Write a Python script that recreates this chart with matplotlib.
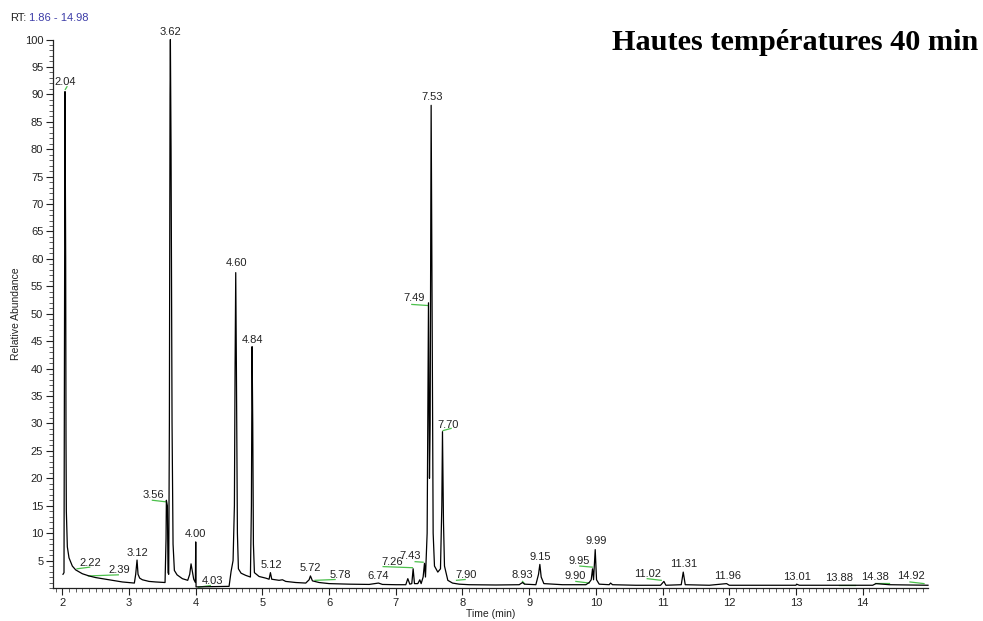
import numpy as np
import matplotlib
matplotlib.use("Agg")
import matplotlib.pyplot as plt
from matplotlib.ticker import MultipleLocator

# chromatogram trace: retention time (min), relative abundance (%)
rt = [2.010, 2.025, 2.040, 2.050, 2.055, 2.060, 2.075, 2.10, 2.15, 2.20, 2.30, 2.40,
      2.50, 2.60, 2.70, 2.80, 2.90, 3.00, 3.08, 3.10, 3.12, 3.135, 3.16, 3.20, 3.30,
      3.40, 3.54, 3.555, 3.56, 3.575, 3.585, 3.595, 3.605, 3.615, 3.62, 3.63, 3.645,
      3.66, 3.68, 3.72, 3.80, 3.88, 3.91, 3.93, 3.95, 3.97, 3.995, 4.00, 4.005, 4.50,
      4.53, 4.56, 4.58, 4.59, 4.60, 4.61, 4.625, 4.64, 4.68, 4.75, 4.82, 4.835, 4.845,
      4.855, 4.865, 4.88, 4.95, 5.05, 5.10, 5.12, 5.14, 5.25, 5.30, 5.35, 5.50, 5.65,
      5.70, 5.72, 5.75, 5.85, 6.00, 6.30, 6.60, 6.74, 6.80, 7.00, 7.15, 7.18, 7.21,
      7.24, 7.26, 7.28, 7.33, 7.36, 7.38, 7.41, 7.43, 7.445, 7.47, 7.49, 7.505, 7.515,
      7.53, 7.545, 7.56, 7.58, 7.63, 7.67, 7.69, 7.70, 7.715, 7.73, 7.78, 7.85, 7.95,
      8.10, 8.50, 8.85, 8.90, 8.93, 9.10, 9.14, 9.16, 9.18, 9.22, 9.50, 9.85, 9.90,
      9.93, 9.95, 9.965, 9.99, 10.01, 10.05, 10.20, 10.22, 10.25, 10.60, 10.97, 11.02,
      11.05, 11.28, 11.31, 11.34, 11.70, 11.96, 12.00, 13.00, 13.01, 13.05, 14.15,
      14.20, 14.40, 14.98]
abundance = [2.5, 2.8, 90.5, 60, 27, 14, 7.5, 5.5, 4.0, 3.3, 2.6, 2.2,
             1.9, 1.7, 1.5, 1.3, 1.1, 1.0, 0.9, 2.5, 5.1, 2.5, 1.8, 1.5, 1.2,
             1.1, 1.0, 9, 16.0, 15, 2.8, 2.5, 30, 90, 100, 80, 30,
             8, 3.2, 2.4, 1.7, 1.4, 2.5, 4.4, 3.0, 1.6, 1.0, 8.4, 0.2, 0.3,
             3.0, 5.0, 15, 40, 57.5, 40, 10, 3.5, 2.7, 2.3, 2.0, 15, 44,
             30, 8, 2.8, 2.1, 1.8, 1.6, 2.8, 1.6, 1.4, 1.5, 1.2, 1.0, 0.9,
             1.5, 2.2, 1.3, 1.0, 0.8, 0.7, 0.65, 0.9, 0.65, 0.6, 0.6, 1.7, 0.7,
             0.8, 3.5, 0.8, 0.8, 1.5, 0.8, 2.0, 4.5, 2.0, 10, 52, 20, 30,
             88, 50, 10, 4, 2.9, 3.5, 15, 28.5, 12, 4, 1.4, 0.9, 0.7,
             0.6, 0.55, 0.6, 1.0, 0.7, 0.6, 2.5, 4.3, 2.0, 0.8, 0.6, 0.6, 1.0,
             1.5, 3.5, 1.5, 7.0, 1.5, 0.7, 0.6, 0.9, 0.6, 0.5, 0.5, 1.2,
             0.5, 0.6, 2.9, 0.6, 0.5, 0.8, 0.5, 0.5, 0.7, 0.5, 0.5,
             0.8, 0.6, 0.5]

# peak annotations: text, position (time, abundance)
peak_labels = ["2.04", "2.22", "2.39", "3.12", "3.56", "3.62", "4.00", "4.03", "4.60",
               "4.84", "5.12", "5.72", "5.78", "6.74", "7.26", "7.43", "7.49", "7.53",
               "7.70", "7.90", "8.93", "9.15", "9.90", "9.95", "9.99", "11.02", "11.31",
               "11.96", "13.01", "13.88", "14.38", "14.92"]
label_t = [2.05, 2.42, 2.86, 3.12, 3.37, 3.62, 4.00, 4.25, 4.61,
           4.85, 5.13, 5.72, 6.17, 6.74, 6.94, 7.22, 7.27, 7.54,
           7.78, 8.06, 8.89, 9.16, 9.69, 9.75, 10.00, 10.77, 11.32,
           11.98, 13.01, 13.64, 14.18, 14.72]
label_y = [92.3, 4.5, 3.2, 6.4, 16.9, 101.4, 9.9, 1.2, 59.2,
           45.2, 4.2, 3.6, 2.4, 2.2, 4.8, 5.8, 52.8, 89.5,
           29.8, 2.4, 2.3, 5.6, 2.2, 5.0, 8.5, 2.5, 4.4,
           2.2, 2.0, 1.8, 2.0, 2.1]

# green integration baselines: start time, start value, end time, end value
base_t0 = [2.045, 2.22, 2.39, 3.35, 4.04, 5.79, 6.81, 7.29, 7.24, 7.71, 7.91, 8.90, 9.70, 9.76, 10.77, 13.64, 14.18, 14.71]
base_y0 = [90.9, 3.5, 2.2, 16.0, 0.15, 1.4, 3.9, 4.8, 51.7, 28.7, 1.4, 1.2, 1.2, 4.0, 1.7, 0.6, 0.9, 1.1]
base_t1 = [2.07, 2.41, 2.84, 3.56, 4.22, 6.09, 7.25, 7.41, 7.48, 7.83, 8.04, 8.93, 9.90, 9.95, 10.98, 13.89, 14.39, 14.92]
base_y1 = [91.4, 3.8, 2.4, 15.7, 0.45, 1.55, 3.7, 4.7, 51.5, 29.1, 1.55, 0.8, 0.9, 3.8, 1.4, 0.6, 0.9, 0.8]

rt_range = (1.86, 14.98)

plt.rcParams['font.family'] = ['Liberation Sans', 'DejaVu Sans']

fig = plt.figure(figsize=(9.83, 6.21), dpi=100)
ax = fig.add_axes([53 / 983, 1 - 588 / 621, (928 - 53) / 983, (588 - 39.5) / 621])

ax.plot(rt, abundance, color="black", lw=0.9, clip_on=False, zorder=3)

for t0, y0, t1, y1 in zip(base_t0, base_y0, base_t1, base_y1):
    ax.plot([t0, t1], [y0, y1], color="#4cc04c", lw=0.9, clip_on=False, zorder=2)

for txt, t, y in zip(peak_labels, label_t, label_y):
    ax.text(t, y, txt, ha="center", va="center", fontsize=8, color="#222222", clip_on=False)

ax.set_xlim(*rt_range)
ax.set_ylim(0, 100)
ax.xaxis.set_major_locator(MultipleLocator(1))
ax.xaxis.set_minor_locator(MultipleLocator(0.1))
ax.yaxis.set_major_locator(MultipleLocator(5))
ax.yaxis.set_minor_locator(MultipleLocator(1))
ax.set_xticks(range(2, 15))
ax.set_yticks(range(5, 101, 5))
ax.tick_params(axis="both", which="major", length=5, width=0.8, labelsize=8, pad=2, colors="#222222")
ax.tick_params(axis="both", which="minor", length=3, width=0.6, colors="#444444")
for s in ["top", "right"]:
    ax.spines[s].set_visible(False)
for s in ["left", "bottom"]:
    ax.spines[s].set_linewidth(0.9)
    ax.spines[s].set_color("#222222")

ax.set_xlabel("Time (min)", fontsize=7.5, labelpad=1, color="#222222")
ax.set_ylabel("Relative Abundance", fontsize=7.5, labelpad=3, color="#222222")

fig.text(10 / 983, 1 - 18 / 621, "RT:", fontsize=8, va="center", ha="left", color="#222222")
fig.text(29 / 983, 1 - 18 / 621, "%.2f - %.2f" % rt_range, fontsize=8, va="center", ha="left", color="#3c3ca8")

fig.text(978 / 983, 1 - 42 / 621, "Hautes températures 40 min", fontsize=21.8, fontweight="bold",
         family="Liberation Serif", ha="right", va="center", color="black")

fig.savefig("out.png", dpi=100)
